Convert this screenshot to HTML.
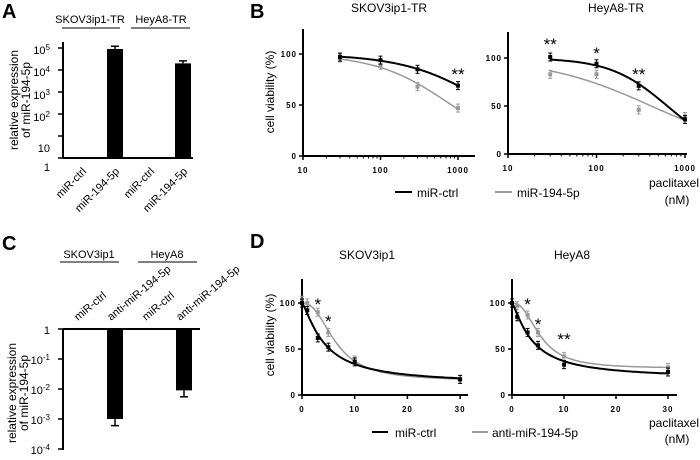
<!DOCTYPE html>
<html><head><meta charset="utf-8"><style>
html,body{margin:0;padding:0;background:#fff;}
svg{display:block;font-family:"Liberation Sans",Arial,sans-serif;}
.tk{font-size:8px;font-weight:bold;letter-spacing:1px;}
.pl{font-size:20px;font-weight:bold;}
</style></head><body>
<svg id="fig" width="700" height="460" viewBox="0 0 700 460" xmlns="http://www.w3.org/2000/svg">
<text class="pl" x="2" y="18">A</text>
<text class="pl" x="250" y="18">B</text>
<text class="pl" x="2" y="250">C</text>
<text class="pl" x="250" y="248">D</text>
<g id="gA"></g>
<g id="gB"></g>
<g id="gC"></g>
<g id="gD"></g>
</svg>
<script>
// ---- Panel A data ----
const aCategories = ["miR-ctrl","miR-194-5p","miR-ctrl","miR-194-5p"];
const aValues = [1, 90000, 1, 20000];
const aErrors = [0, 30000, 0, 6000];
// ---- Panel C data ----
const cCategories = ["miR-ctrl","anti-miR-194-5p","miR-ctrl","anti-miR-194-5p"];
const cValues = [1, 0.001, 1, 0.009];
const cErrors = [0, 0.0004, 0, 0.0035];
// ---- Panel B data ----
const bDoses = [30, 100, 300, 1000];
const bSkovCtrl = [97, 94, 85, 69];
const bSkovMir = [96, 89, 68, 47];
const bHeyCtrl = [101, 94, 71, 36];
const bHeyMir = [83, 83, 46, 39];
const bXTicks = [10, 100, 1000];
const bYTicks = [0, 50, 100];
// ---- Panel D data ----
const dDoses = [0, 1, 3, 5, 10, 30];
const dSkovCtrl = [100, 92, 62, 52, 36, 17];
const dSkovAnti = [103, 100, 90, 68, 38, 17];
const dHeyCtrl = [100, 85, 68, 54, 33, 25];
const dHeyAnti = [100, 97, 87, 68, 42, 30];
const dXTicks = [0, 10, 20, 30];
const dYTicks = [0, 50, 100];

const NS="http://www.w3.org/2000/svg";
function mk(parent,tag,attrs,text){const e=document.createElementNS(NS,tag);for(const k in attrs)e.setAttribute(k,attrs[k]);if(text!==undefined)e.textContent=text;parent.appendChild(e);return e;}
function line(p,x1,y1,x2,y2,c,w){return mk(p,'line',{x1,y1,x2,y2,stroke:c||'#000','stroke-width':w||1.5});}
function powLabel(g,x,y,exp){
 const t=mk(g,'text',{x:x,y:y,'text-anchor':'end','font-size':'11'});
 if(exp===null){t.textContent='1';}
 else if(exp==='1'){t.textContent='10';}
 else{mk(t,'tspan',{},'10');mk(t,'tspan',{dy:-4,'font-size':'8'},exp);}
 return t;
}

// ---------- Panel A ----------
(function(){
 const g=document.getElementById('gA');
 const y=v=>158-22*Math.log10(v);
 const xs=[82,115,150,183];
 line(g,63,42,63,158,'#000',2);line(g,63,158,193,158,'#000',2);
 const labs=[[1,null,167],[10,'1',148],[100,'2',117],[1000,'3',95],[1e4,'4',72],[1e5,'5',50]];
 labs.forEach(l=>{line(g,58,y(l[0]),63,y(l[0]),'#000',1.5);const t=powLabel(g,50,l[2]+4,l[1]);
 });
 aValues.forEach((v,i)=>{ if(v>1){const r=mk(g,'rect',{x:xs[i]-8,y:y(v),width:16,height:158-y(v),fill:'#000'});
   
   const ye=y(v+aErrors[i]);line(g,xs[i],ye,xs[i],y(v),'#000',1.5);line(g,xs[i]-4,ye,xs[i]+4,ye,'#000',1.5);}
  const t=mk(g,'text',{x:0,y:0,'text-anchor':'end','font-size':'11',transform:`translate(${xs[i]+5},172) rotate(-45)`},aCategories[i]);
  });
 [["SKOV3ip1-TR",90,62,120],["HeyA8-TR",161,131,190]].forEach(s=>{const t=mk(g,'text',{x:s[1],y:23,'text-anchor':'middle','font-size':'11'},s[0]);
  line(g,s[2],28,s[3],28,'#000',1);});
 const t=mk(g,'text',{'text-anchor':'middle','font-size':'12',transform:'translate(18,100) rotate(-90)'});
 mk(t,'tspan',{x:0,y:0},'relative expression');mk(t,'tspan',{x:0,y:12},'of miR-194-5p');
 
})();

// ---------- Panel C ----------
(function(){
 const g=document.getElementById('gC');
 const y=v=>329-30*Math.log10(v);
 const xs=[82,115,150,184];
 line(g,63,329,63,450,'#000',2);line(g,63,329,200,329,'#000',2);
 const labs=[[1,null],[0.1,'-1'],[0.01,'-2'],[0.001,'-3'],[0.0001,'-4']];
 labs.forEach(l=>{line(g,58,y(l[0]),63,y(l[0]),'#000',1.5);const t=powLabel(g,50,y(l[0])+5,l[1]);
 });
 cValues.forEach((v,i)=>{ if(v<1){const r=mk(g,'rect',{x:xs[i]-8,y:329,width:16,height:y(v)-329,fill:'#000'});
   
   const ye=y(v-cErrors[i]);line(g,xs[i],y(v),xs[i],ye,'#000',1.5);line(g,xs[i]-4,ye,xs[i]+4,ye,'#000',1.5);}
  const t=mk(g,'text',{x:0,y:0,'text-anchor':'start','font-size':'11',transform:`translate(${xs[i]-4},321) rotate(-40)`},cCategories[i]);
  });
 [["SKOV3ip1",89,60,119],["HeyA8",167,138,197]].forEach(s=>{const t=mk(g,'text',{x:s[1],y:258,'text-anchor':'middle','font-size':'11'},s[0]);
  line(g,s[2],262,s[3],262,'#000',1);});
 const t=mk(g,'text',{'text-anchor':'middle','font-size':'12',transform:'translate(16,393) rotate(-90)'});
 mk(t,'tspan',{x:0,y:0},'relative expression');mk(t,'tspan',{x:0,y:12},'of miR-194-5p');
 
})();

// ---------- logistic fit (top=100; bottom fixed 0 for log-x, fitted for linear-x) ----------
function fitCurve(xs,ys,logx){
 const f=(p,x)=>{const u=logx?Math.pow(10,(Math.log10(x)-p.c)*p.h):Math.pow(Math.max(x,0)/Math.max(p.c,0.01),p.h);return p.b+(100-p.b)/(1+u);};
 const err=p=>xs.reduce((s,x,i)=>s+Math.pow(f(p,x)-ys[i],2),0);
 let p={c:logx?2.5:5,h:1,b:0};
 let steps={c:logx?0.5:2,h:0.4};
 if(!logx)steps.b=5;
 for(let it=0;it<400;it++){
  for(const k in steps){
   const e0=err(p);
   const a=Object.assign({},p);a[k]+=steps[k];const b=Object.assign({},p);b[k]-=steps[k];
   if(k==='h'){a.h=Math.max(0.2,Math.min(4,a.h));b.h=Math.max(0.2,Math.min(4,b.h));}
   if(k==='b'){a.b=Math.max(0,Math.min(60,a.b));b.b=Math.max(0,Math.min(60,b.b));}
   if(!logx&&k==='c'){b.c=Math.max(0.05,b.c);}
   const ea=err(a),eb=err(b);
   if(ea<e0&&ea<=eb)p=a;else if(eb<e0)p=b;else steps[k]*=0.7;
  }
 }
 return x=>f(p,x);
}
function plot(g,o){
 const X=o.x,Y=o.y;
 line(g,o.ax,o.top,o.ax,o.y0,'#000',2);line(g,o.ax,o.y0,o.xend,o.y0,'#000',2);
 o.yt.forEach(v=>{line(g,o.ax-4,Y(v),o.ax,Y(v),'#000',1.5);const t=mk(g,'text',{class:'tk',x:o.ax-6,y:Y(v)+3,'text-anchor':'end'},v);
  });
 o.xt.forEach(v=>{line(g,X(v),o.y0,X(v),o.y0+4,'#000',1.5);const t=mk(g,'text',{class:'tk',x:X(v),y:o.y0+17,'text-anchor':'middle'},v);
  });
 if(o.minor)o.minor.forEach(v=>line(g,X(v),o.y0,X(v),o.y0+2.5,'#000',1));
 o.series.forEach(s=>{
  const fn=fitCurve(o.dx,s.v,o.logx);
  const x0=o.dx[0],x1=o.dx[o.dx.length-1];let d='';
  for(let i=0;i<=80;i++){const xv=o.logx?Math.pow(10,Math.log10(x0)+(Math.log10(x1)-Math.log10(x0))*i/80):x0+(x1-x0)*i/80;
   d+=(i?'L':'M')+X(xv).toFixed(1)+','+Y(fn(xv)).toFixed(1);}
  const p=mk(g,'path',{d:d,fill:'none',stroke:s.c,'stroke-width':s.w});
  
  o.dx.forEach((dv,i)=>{const q=[X(dv),Y(s.v[i])];const r=mk(g,'rect',{x:q[0]-2,y:q[1]-2,width:4,height:4,fill:s.c});
   
   line(g,q[0],q[1]-4,q[0],q[1]+4,s.c,1);line(g,q[0]-2,q[1]-4,q[0]+2,q[1]-4,s.c,1);line(g,q[0]-2,q[1]+4,q[0]+2,q[1]+4,s.c,1);});
 });
 o.stars.forEach(s=>{const t=mk(g,'text',{x:X(s[0]),y:s[1],'text-anchor':'middle','font-size':'17'},s[2]);
  });
 const t=mk(g,'text',{x:o.tx,y:o.ty,'text-anchor':'middle','font-size':'12'},o.title);
 
}
const minorLog=[];[10,100].forEach(b=>{for(let k=2;k<10;k++)minorLog.push(b*k);});
(function(){
 const g=document.getElementById('gB');
 const yl=v=>156-1.02*v;
 plot(g,{logx:true,ax:303,top:29,y0:156,xend:475,x:v=>303+77.5*Math.log10(v/10),y:yl,yt:bYTicks,xt:bXTicks,minor:minorLog,dx:bDoses,
  series:[{v:bSkovMir,c:'#999',w:1.5,name:'b-skov-mir194'},{v:bSkovCtrl,c:'#000',w:2,name:'b-skov-ctrl'}],
  stars:[[1000,80,'**']],title:'SKOV3ip1-TR',tx:389,ty:12});
 const yr=v=>154-0.96*v;
 plot(g,{logx:true,ax:508,top:32,y0:154,xend:687,x:v=>508+88.5*Math.log10(v/10),y:yr,yt:bYTicks,xt:bXTicks,minor:minorLog,dx:bDoses,
  series:[{v:bHeyMir,c:'#999',w:1.5,name:'b-hey-mir194'},{v:bHeyCtrl,c:'#000',w:2,name:'b-hey-ctrl'}],
  stars:[[30,50,'**'],[100,59,'*'],[300,80,'**']],title:'HeyA8-TR',tx:616,ty:12});
 line(g,395,192,412,192,'#000',2);mk(g,'text',{x:417,y:197,'font-size':'12'},'miR-ctrl');
 line(g,495,192,512,192,'#999',2);mk(g,'text',{x:517,y:197,'font-size':'12'},'miR-194-5p');
 const t=mk(g,'text',{'text-anchor':'middle','font-size':'12'});mk(t,'tspan',{x:674,y:187},'paclitaxel');mk(t,'tspan',{x:677,y:204},'(nM)');
 
 const yt=mk(g,'text',{'text-anchor':'middle','font-size':'12',transform:'translate(274,92) rotate(-90)'},'cell viability (%)');
 
})();
(function(){
 const g=document.getElementById('gD');
 const y=v=>395-0.92*v;
 plot(g,{logx:false,ax:302,top:279,y0:395,xend:468,x:v=>302+5.27*v,y:y,yt:dYTicks,xt:dXTicks,dx:dDoses,
  series:[{v:dSkovAnti,c:'#999',w:1.5,name:'d-skov-anti'},{v:dSkovCtrl,c:'#000',w:2,name:'d-skov-ctrl'}],
  stars:[[3,310,'*'],[5,327,'*']],title:'SKOV3ip1',tx:367,ty:259});
 plot(g,{logx:false,ax:512,top:279,y0:395,xend:677,x:v=>512+5.2*v,y:y,yt:dYTicks,xt:dXTicks,dx:dDoses,
  series:[{v:dHeyAnti,c:'#999',w:1.5,name:'d-hey-anti'},{v:dHeyCtrl,c:'#000',w:2,name:'d-hey-ctrl'}],
  stars:[[3,310,'*'],[5,330,'*'],[10,345,'**']],title:'HeyA8',tx:572,ty:259});
 line(g,372,432,388,432,'#000',2);mk(g,'text',{x:395,y:437,'font-size':'12'},'miR-ctrl');
 line(g,472,432,488,432,'#999',2);mk(g,'text',{x:492,y:437,'font-size':'12'},'anti-miR-194-5p');
 const t=mk(g,'text',{'text-anchor':'middle','font-size':'12'});mk(t,'tspan',{x:674,y:427},'paclitaxel');mk(t,'tspan',{x:677,y:443},'(nM)');
 
 const yt=mk(g,'text',{'text-anchor':'middle','font-size':'12',transform:'translate(274,335) rotate(-90)'},'cell viability (%)');
 
})();
</script>
</body></html>
